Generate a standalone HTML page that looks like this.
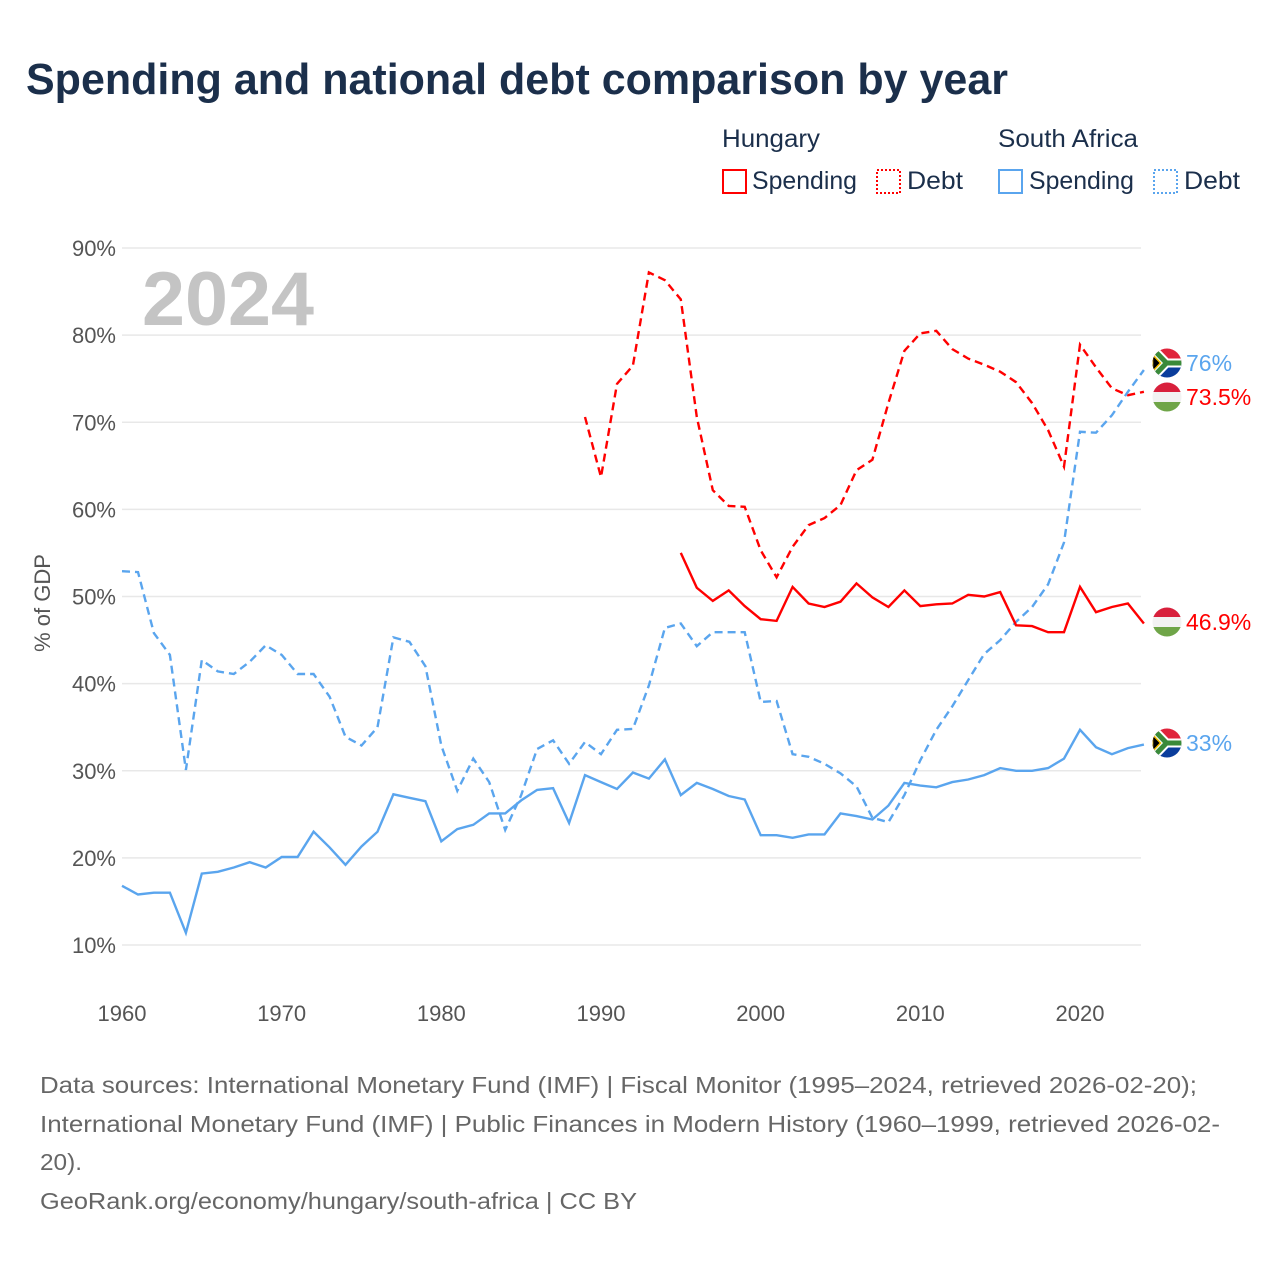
<!DOCTYPE html>
<html><head><meta charset="utf-8"><style>
html,body{margin:0;padding:0;background:#fff;}
svg{display:block;font-family:"Liberation Sans",sans-serif;}
</style></head><body>
<svg id="chart" width="1280" height="1280" viewBox="0 0 1280 1280" xmlns="http://www.w3.org/2000/svg">
<text x="26" y="94" font-size="44" font-weight="bold" fill="#1b2f4b" textLength="982" lengthAdjust="spacingAndGlyphs">Spending and national debt comparison by year</text>
<g font-size="25" fill="#1b2f4b">
<text x="722" y="147" textLength="98" lengthAdjust="spacingAndGlyphs">Hungary</text>
<text x="998" y="147" textLength="140" lengthAdjust="spacingAndGlyphs">South Africa</text>
<g><rect x="723" y="170" width="23" height="23" fill="none" stroke="#ff0000" stroke-width="2"/><text x="752" y="189" textLength="105" lengthAdjust="spacingAndGlyphs">Spending</text></g>
<g><rect x="877" y="170" width="23" height="23" fill="none" stroke="#ff0000" stroke-width="2" stroke-dasharray="2,2"/><text x="907" y="189" textLength="56" lengthAdjust="spacingAndGlyphs">Debt</text></g>
<g><rect x="999" y="170" width="23" height="23" fill="none" stroke="#5aa5ee" stroke-width="2"/><text x="1029" y="189" textLength="105" lengthAdjust="spacingAndGlyphs">Spending</text></g>
<g><rect x="1154" y="170" width="23" height="23" fill="none" stroke="#5aa5ee" stroke-width="2" stroke-dasharray="2,2"/><text x="1184" y="189" textLength="56" lengthAdjust="spacingAndGlyphs">Debt</text></g>
</g>
<text x="142" y="325" font-size="76" font-weight="bold" fill="#c4c4c4" textLength="172" lengthAdjust="spacingAndGlyphs">2024</text>
<g id="grid"></g>
<g id="yticks" font-size="22" fill="#555" text-anchor="end"></g>
<g id="xticks" font-size="22" fill="#555" text-anchor="middle"></g>
<text transform="translate(50,603) rotate(-90)" font-size="22" fill="#555" text-anchor="middle">% of GDP</text>
<g id="series"></g>
<g id="ends"></g>
<g font-size="23" fill="#666" lengthAdjust="spacingAndGlyphs">
<text x="40" y="1093" textLength="1157" lengthAdjust="spacingAndGlyphs">Data sources: International Monetary Fund (IMF) | Fiscal Monitor (1995–2024, retrieved 2026-02-20);</text>
<text x="40" y="1132" textLength="1180" lengthAdjust="spacingAndGlyphs">International Monetary Fund (IMF) | Public Finances in Modern History (1960–1999, retrieved 2026-02-</text>
<text x="40" y="1170" textLength="42" lengthAdjust="spacingAndGlyphs">20).</text>
<text x="40" y="1209" textLength="597" lengthAdjust="spacingAndGlyphs">GeoRank.org/economy/hungary/south-africa | CC BY</text>
</g>
</svg>
<script>
const yTicks = [10,20,30,40,50,60,70,80,90];
const xTicks = [1960,1970,1980,1990,2000,2010,2020];
const saYears0 = 1960;
const saSpending = [16.8,15.8,16.0,16.0,11.4,18.2,18.4,18.9,19.5,18.9,20.1,20.1,23.0,21.2,19.2,21.3,23.0,27.3,26.9,26.5,21.9,23.3,23.8,25.1,25.1,26.6,27.8,28.0,24.0,29.5,28.7,27.9,29.8,29.1,31.3,27.2,28.6,27.9,27.1,26.7,22.6,22.6,22.3,22.7,22.7,25.1,24.8,24.4,26.0,28.6,28.3,28.1,28.7,29.0,29.5,30.3,30.0,30.0,30.3,31.4,34.7,32.7,31.9,32.6,33.0];
const saDebt = [52.9,52.8,45.8,43.3,30.1,42.7,41.4,41.1,42.5,44.4,43.3,41.1,41.1,38.5,33.9,32.9,35.0,45.3,44.8,42.0,32.9,27.7,31.4,28.7,23.2,27.2,32.5,33.5,30.8,33.3,31.9,34.7,34.8,39.8,46.4,46.9,44.3,45.9,45.9,45.9,37.9,38.0,31.9,31.6,30.8,29.7,28.2,24.6,24.1,27.2,31.2,34.7,37.4,40.4,43.4,45.0,47.1,48.8,51.4,56.2,68.9,68.8,70.8,73.5,76.0];
const huDebtStart = 1989;
const huDebt = [70.6,63.7,74.4,76.5,87.2,86.3,84.1,70.6,62.2,60.4,60.3,55.3,52.2,55.7,58.2,59.0,60.5,64.5,65.7,72.2,78.2,80.2,80.5,78.4,77.3,76.6,75.8,74.6,72.2,69.1,64.9,78.9,76.3,73.9,73.1,73.5];
const huSpendStart = 1995;
const huSpending = [55.0,51.0,49.5,50.7,48.9,47.4,47.2,51.1,49.2,48.8,49.4,51.5,49.9,48.8,50.7,48.9,49.1,49.2,50.2,50.0,50.5,46.7,46.6,45.9,45.9,51.1,48.2,48.8,49.2,46.9];
const endLabels = ["76%","73.5%","46.9%","33%"];

const NS="http://www.w3.org/2000/svg";
const X0=122,X1=1141;
function xs(yr){return 122+(yr-1960)*(1080-122)/60;}
function ys(v){return 945-(v-10)*(945-248)/80;}
function mk(tag,attrs,parent){const e=document.createElementNS(NS,tag);for(const k in attrs)e.setAttribute(k,attrs[k]);parent.appendChild(e);return e;}
const grid=document.getElementById('grid'),yt=document.getElementById('yticks'),xt=document.getElementById('xticks');
yTicks.forEach(v=>{
  const l=mk('line',{x1:X0,x2:X1,y1:ys(v),y2:ys(v),stroke:'#e8e8e8','stroke-width':1.5},grid);
  
  
  const t=mk('text',{x:116,y:ys(v)+8},yt);t.textContent=v+'%';
  
  
});
xTicks.forEach(yr=>{
  const t=mk('text',{x:xs(yr),y:1021},xt);t.textContent=yr;
  
  
});
const sg=document.getElementById('series');
function line(start,vals,color,dash,name){
  const pts=vals.map((v,i)=>xs(start+i).toFixed(1)+','+ys(v).toFixed(1)).join(' ');
  const p=mk('polyline',{points:pts,fill:'none',stroke:color,'stroke-width':2.4,'stroke-linejoin':'miter'},sg);
  if(dash)p.setAttribute('stroke-dasharray','8,5');
  
  
}
line(saYears0,saDebt,'#5aa5ee',true,'south-africa-debt-line');
line(saYears0,saSpending,'#5aa5ee',false,'south-africa-spending-line');
line(huDebtStart,huDebt,'#ff0000',true,'hungary-debt-line');
line(huSpendStart,huSpending,'#ff0000',false,'hungary-spending-line');

const eg=document.getElementById('ends');
function flagSA(cy){
  const g=mk('g',{},eg);
  
  
  const id='c'+Math.round(cy);
  const cp=mk('clipPath',{id:id},g);mk('circle',{cx:1167,cy:cy,r:14.5},cp);
  const h=mk('g',{'clip-path':'url(#'+id+')'},g);
  const x=1152.5,y=cy-14.5;
  mk('rect',{x:x,y:y,width:29,height:14.5,fill:'#e0243c'},h);
  mk('rect',{x:x,y:cy,width:29,height:14.5,fill:'#0a3d9c'},h);
  mk('path',{d:`M${x} ${y} L${x+13} ${cy} L${x} ${cy+14.5} Z`,fill:'#000'},h);
  mk('path',{d:`M${x} ${y} L${x+14} ${cy} L${x} ${cy+14.5} M${x+14} ${cy} H${x+29}`,fill:'none',stroke:'#fff',"stroke-width":9},h);
  mk('path',{d:`M${x} ${y} L${x+14} ${cy} L${x} ${cy+14.5} M${x+14} ${cy} H${x+29}`,fill:'none',stroke:'#3a8a3a',"stroke-width":5},h);
  mk('path',{d:`M${x} ${y+6} L${x+8} ${cy} L${x} ${cy+8.5} Z`,fill:'#000',stroke:'#f5c000','stroke-width':1.5},h);
}
function flagHU(cy){
  const g=mk('g',{},eg);
  
  
  const id='h'+Math.round(cy);
  const cp=mk('clipPath',{id:id},g);mk('circle',{cx:1167,cy:cy,r:14.5},cp);
  const h=mk('g',{'clip-path':'url(#'+id+')'},g);
  mk('rect',{x:1152,y:cy-15,width:30,height:10,fill:'#d8203c'},h);
  mk('rect',{x:1152,y:cy-5,width:30,height:10,fill:'#f2f2f2'},h);
  mk('rect',{x:1152,y:cy+5,width:30,height:10,fill:'#6fa548'},h);
}
const endPos=[[363,'#5aa5ee',flagSA],[397,'#ff0000',flagHU],[622,'#ff0000',flagHU],[743,'#5aa5ee',flagSA]];
endPos.forEach((p,i)=>{
  p[2](p[0]);
  const t=mk('text',{x:1186,y:p[0]+8,'font-size':23,fill:p[1]},eg);
  t.textContent=endLabels[i];
  
  
});
</script>
</body></html>
